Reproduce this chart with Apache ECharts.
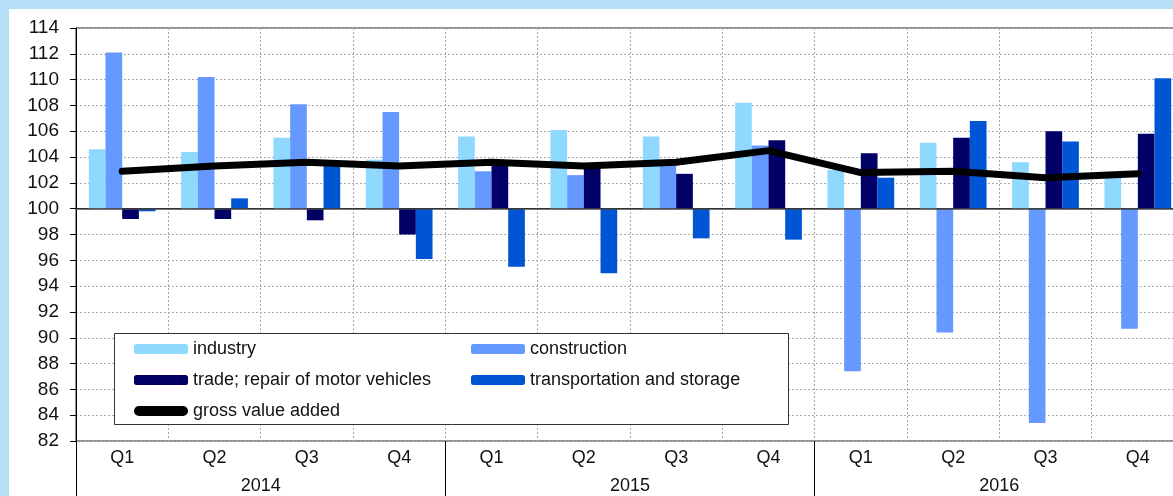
<!DOCTYPE html>
<html>
<head>
<meta charset="utf-8">
<script src="https://cdn.jsdelivr.net/npm/echarts@6/dist/echarts.min.js"></script>
<style>
	html,body{margin:0;padding:0;}
	body{width:1173px;height:496px;background:#b4dff6;position:relative;overflow:hidden;}
	#chart{position:absolute;left:9px;top:9px;width:1200px;height:487px;background:#fff;}
</style>
</head>
<body>
<div id="chart"></div>
<script>
// 季度 / 年份
var quarters = ['Q1','Q2','Q3','Q4','Q1','Q2','Q3','Q4','Q1','Q2','Q3','Q4'];
var years = ['2014','2015','2016'];

// 指数 (上年同期=100)
var industry     = [104.6,104.4,105.5,103.8,105.6,106.1,105.6,108.2,103.0,105.1,103.6,102.4];
var construction = [112.1,110.2,108.1,107.5,102.9,102.6,103.7,104.9, 87.4, 90.4, 83.4, 90.7];
var trade        = [ 99.2, 99.2, 99.1, 98.0,103.7,103.3,102.7,105.3,104.3,105.5,106.0,105.8];
var transport    = [ 99.8,100.8,103.4, 96.1, 95.5, 95.0, 97.7, 97.6,102.4,106.8,105.2,110.1];
var gva          = [102.9,103.3,103.6,103.3,103.6,103.3,103.6,104.5,102.8,102.9,102.4,102.7];

var base = 100;
var yMin = 82, yMax = 114, yStep = 2;

function rel(arr){
	var out = [];
	for(var i=0;i<arr.length;i++){
		out.push(+(arr[i]-base).toFixed(2));
	}
	return out;
}

var font = 'Liberation Sans, Arial, sans-serif';
var txt = {fontFamily:font, fontSize:18, color:'#111', lineHeight:20};

var myChart = echarts.init(document.getElementById('chart'));
var option = {
	animation:false,
	grid:{
		left:67, top:19, width:1108, height:413,
		show:true, borderColor:'#222', borderWidth:1
	},
	xAxis:[
		{
			type:'category',
			data:quarters,
			position:'bottom',
			axisLine:{lineStyle:{color:'#000',width:1}},
			axisTick:{show:false},
			axisLabel:{interval:0, margin:8, fontFamily:font, fontSize:18, color:'#111'},
			splitLine:{show:true, interval:0, lineStyle:{color:'#aaa', type:[2,2], width:1}}
		},
		{
			type:'category',
			data:years,
			position:'bottom',
			offset:0,
			axisLine:{show:false},
			axisTick:{show:true, length:56, lineStyle:{color:'#000',width:1}},
			axisLabel:{margin:36, fontFamily:font, fontSize:18, color:'#111'},
			splitLine:{show:false}
		}
	],
	yAxis:{
		type:'value',
		min:yMin-base, max:yMax-base, interval:yStep,
		axisLine:{show:true, lineStyle:{color:'#000',width:1}},
		axisTick:{show:true, length:6, lineStyle:{color:'#000'}},
		axisLabel:{margin:17, fontFamily:font, fontSize:19, color:'#111',
			formatter:function(v){return v+base;}},
		splitLine:{show:true, lineStyle:{color:'#aaa', type:[2,2], width:1}}
	},
	graphic:[
		{
			type:'rect', z:3,
			shape:{x:105.5, y:324.5, width:674, height:91},
			style:{fill:'#fff', stroke:'#333', lineWidth:1}
		}
	],
	legend:[
		{
			orient:'vertical', left:125, top:330, padding:0,
			itemWidth:54, itemHeight:10, itemGap:11, z:4,
			textStyle:txt,
			data:['industry','trade; repair of motor vehicles',{name:'gross value added', icon:'path://M5,0 L49,0 A5,5 0 0 1 49,10 L5,10 A5,5 0 0 1 5,0 Z', itemStyle:{color:'#000'}}]
		},
		{
			orient:'vertical', left:462, top:330, padding:0,
			itemWidth:54, itemHeight:10, itemGap:11, z:4,
			textStyle:txt,
			data:['construction','transportation and storage']
		}
	],
	series:[
		{
			name:'industry', type:'bar', data:rel(industry),
			barGap:'0%', barCategoryGap:'27.7%',
			itemStyle:{color:'#8fd9ff'},
			markLine:{
				silent:true, symbol:'none', label:{show:false},
				lineStyle:{color:'#444', type:'solid', width:1.5},
				data:[{yAxis:0}]
			}
		},
		{name:'construction', type:'bar', data:rel(construction), itemStyle:{color:'#6699ff'}},
		{name:'trade; repair of motor vehicles', type:'bar', data:rel(trade), itemStyle:{color:'#000066'}},
		{name:'transportation and storage', type:'bar', data:rel(transport), itemStyle:{color:'#0055d4'}},
		{
			name:'gross value added', type:'line', data:rel(gva),
			symbol:'none', z:5,
			lineStyle:{color:'#000', width:7, cap:'round', join:'round'},
			itemStyle:{color:'#000'}
		}
	]
};
myChart.setOption(option);
</script>
</body>
</html>
